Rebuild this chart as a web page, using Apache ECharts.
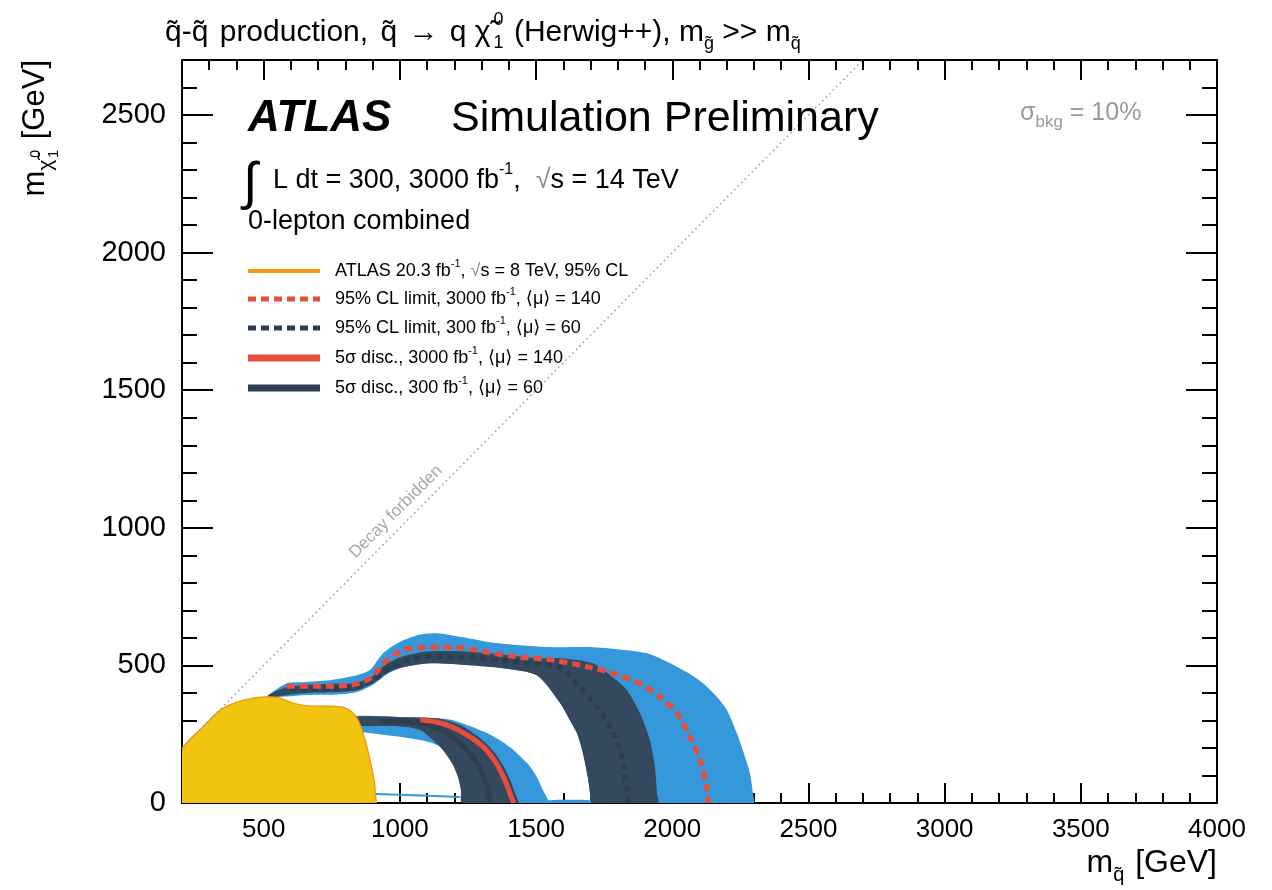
<!DOCTYPE html>
<html>
<head>
<meta charset="utf-8">
<script src="https://cdn.jsdelivr.net/npm/echarts@6/dist/echarts.min.js"></script>
<style>
  html, body { margin: 0; padding: 0; background: #fff; }
  #chart { width: 1272px; height: 890px; }
</style>
</head>
<body>
<div id="chart"></div>
<script>
// ---- axis ranges and ticks (GeV) ----
const xRange = [200, 4000];
const yRange = [0, 2700];
const xMajorTicks = [500, 1000, 1500, 2000, 2500, 3000, 3500, 4000];
const yMajorTicks = [0, 500, 1000, 1500, 2000, 2500];
const xMinorTicks = [];
for (let v = 300; v < 4000; v += 100) if (v % 500) xMinorTicks.push(v);
const yMinorTicks = [];
for (let v = 100; v < 2700; v += 100) if (v % 500) yMinorTicks.push(v);

// ---- contours in the (m_squark, m_neutralino) plane, GeV ----
// ATLAS 8 TeV observed exclusion (filled)
const atlas8TeV = [
  [200, 0], [200, 192], [277, 276], [339, 337], [402, 366], [461, 381], [512, 385],
  [560, 381], [607, 363], [670, 352], [743, 352], [791, 348], [824, 330], [846, 301],
  [872, 229], [890, 156], [905, 83], [912, 11], [912, 0]
];
// 95% CL limit band, 3000 fb-1 (outer edge, then inner edge back)
const limit3000Band = [
  [512, 385], [585, 435], [644, 439], [743, 446], [842, 464], [890, 483], [938, 544],
  [989, 580], [1063, 610], [1136, 617], [1232, 602], [1331, 584], [1441, 573], [1562, 566],
  [1709, 566], [1834, 555], [1907, 544], [1955, 526], [2054, 475], [2113, 435], [2164, 385],
  [2201, 337], [2237, 254], [2259, 192], [2285, 109], [2296, 36], [2298, 0],
  [2000, 0], [1701, 0], [1701, 11], [1690, 94], [1672, 181], [1650, 254], [1624, 301],
  [1588, 363], [1503, 464], [1378, 490], [1257, 501], [1110, 508], [1011, 493], [953, 468],
  [901, 430], [842, 403], [769, 394], [644, 392], [578, 387]
];
// 95% CL limit band, 300 fb-1
const limit300Band = [
  [516, 392], [585, 421], [707, 432], [828, 435], [890, 453], [938, 497], [1011, 533],
  [1110, 551], [1232, 551], [1356, 541], [1503, 526], [1588, 526], [1709, 508],
  [1782, 457], [1834, 410], [1881, 327], [1918, 229], [1936, 131], [1944, 36], [1947, 0],
  [1820, 0], [1701, 0], [1701, 11], [1690, 94], [1672, 181], [1650, 254], [1624, 301],
  [1588, 363], [1503, 464], [1378, 490], [1257, 501], [1110, 508], [1011, 493], [953, 472],
  [901, 435], [842, 410], [769, 403], [644, 399], [523, 385]
];
// 5 sigma discovery band, 3000 fb-1
const disc3000Band = [
  [817, 312], [1011, 312], [1136, 308], [1195, 301], [1320, 254], [1404, 203], [1467, 145],
  [1503, 94], [1525, 47], [1544, 0],
  [1400, 0], [1257, 0], [1257, 83], [1221, 145], [1173, 192], [1110, 221], [1011, 239],
  [853, 258], [817, 258]
];
// 5 sigma discovery band, 300 fb-1
const disc300Band = [
  [817, 312], [1011, 312], [1136, 308], [1221, 283], [1294, 236], [1342, 190], [1378, 138],
  [1404, 86], [1422, 38], [1434, 0],
  [1330, 0], [1228, 0], [1224, 47], [1213, 94], [1191, 145], [1158, 192], [1121, 229],
  [1074, 265], [1000, 279], [817, 283]
];
// low-mass fragments of the 3000 fb-1 band along the axis
const limit3000Sliver = [[1540, 0], [1540, 9], [1600, 12], [1700, 10], [1700, 0]];
const disc3000Sliver = [[912, 33], [1000, 30], [1100, 26], [1221, 22]];

// central contours
const limit3000Line = [
  [585, 424], [707, 424], [817, 428], [890, 453], [953, 519], [1011, 555], [1085, 566],
  [1195, 566], [1320, 548], [1441, 530], [1562, 519], [1698, 493], [1808, 464], [1892, 428],
  [1955, 385], [2017, 327], [2065, 239], [2102, 156], [2127, 58], [2131, 0]
];
const limit300Line = [
  [596, 414], [817, 417], [897, 443], [964, 490], [1037, 522], [1147, 533], [1294, 526],
  [1441, 512], [1588, 493], [1661, 421], [1723, 348], [1771, 276], [1808, 192], [1826, 109],
  [1837, 11], [1837, 0]
];
const disc3000Line = [
  [1075, 302], [1120, 297], [1180, 281], [1245, 248], [1305, 205], [1345, 158], [1372, 111],
  [1395, 60], [1412, 14], [1418, 0]
];
const disc300Line = [
  [927, 297], [1074, 290], [1165, 261], [1228, 210], [1276, 156], [1305, 102], [1323, 47],
  [1331, 0]
];
// m_neutralino = m_squark
const kinematicLimit = [[200, 200], [2700, 2700]];

// ---- style ----
const FONT = "'Liberation Sans', 'DejaVu Sans', Arial, sans-serif";
const COL = {
  lightBlue: '#3498db',
  band: '#34495e',
  navy: '#2c3e50',
  red: '#e74c3c',
  gold: '#f1c40f',
  orange: '#f39c12',
  grey: '#999999'
};

function polygonSeries(name, pts, fill, stroke, lw) {
  return {
    type: 'custom', name, xAxisIndex: 0, yAxisIndex: 0, data: pts, clip: true,
    renderItem(params, api) {
      if (params.context.rendered) return;
      params.context.rendered = true;
      const points = pts.map(p => api.coord(p));
      return {
        type: 'polygon',
        shape: { points, smooth: 0.25 },
        style: { fill, stroke: stroke || 'none', lineWidth: lw || 0 }
      };
    },
    silent: true
  };
}

function lineSeries(name, pts, color, width, type, smooth) {
  return {
    type: 'line', name, xAxisIndex: 0, yAxisIndex: 0, data: pts,
    showSymbol: false, symbol: 'none', smooth: smooth === undefined ? 0.3 : smooth,
    clip: true, silent: true,
    lineStyle: { color, width, type: type || 'solid', cap: 'butt' }
  };
}

function axis(dim, gridIndex, position, ticks, len, labelCfg, showLine) {
  const range = dim === 'x' ? xRange : yRange;
  return {
    type: 'value', gridIndex, position, min: range[0], max: range[1],
    axisLine: { show: !!showLine, onZero: false, lineStyle: { color: '#000', width: 2 } },
    axisTick: { show: true, inside: true, length: len, customValues: ticks,
                lineStyle: { color: '#000', width: 2 } },
    axisLabel: labelCfg ? Object.assign({ show: true, color: '#000', fontFamily: FONT,
                formatter: v => String(v) }, labelCfg) : { show: false },
    splitLine: { show: false }
  };
}

const gridBox = { left: 182, right: 55, top: 60, bottom: 87, containLabel: false };

const option = {
  animation: false,
  backgroundColor: '#fff',
  grid: [Object.assign({}, gridBox), Object.assign({}, gridBox)],
  xAxis: [
    axis('x', 0, 'bottom', xMajorTicks, 20,
         { customValues: xMajorTicks, fontSize: 26, margin: 14 }, true),
    axis('x', 0, 'top', xMajorTicks, 20, null, true),
    axis('x', 1, 'bottom', xMinorTicks, 10, null, false),
    axis('x', 1, 'top', xMinorTicks, 10, null, false)
  ],
  yAxis: [
    axis('y', 0, 'left', yMajorTicks, 31,
         { customValues: yMajorTicks, fontSize: 29, margin: 16 }, true),
    axis('y', 0, 'right', yMajorTicks, 31, null, true),
    axis('y', 1, 'left', yMinorTicks, 15, null, false),
    axis('y', 1, 'right', yMinorTicks, 15, null, false)
  ],
  series: [
    polygonSeries('limit3000Band', limit3000Band, COL.lightBlue),
    polygonSeries('limit300Band', limit300Band, COL.band),
    polygonSeries('disc3000Band', disc3000Band, COL.lightBlue),
    polygonSeries('disc300Band', disc300Band, COL.band),
    polygonSeries('limit3000Sliver', limit3000Sliver, COL.lightBlue),
    lineSeries('disc3000Sliver', disc3000Sliver, COL.lightBlue, 2, 'solid', 0),
    lineSeries('limit300Line', limit300Line, COL.navy, 5, [6, 5]),
    lineSeries('limit3000Line', limit3000Line, COL.red, 5, [8, 5]),
    lineSeries('disc300Line', disc300Line, COL.navy, 5, 'solid'),
    lineSeries('disc3000Line', disc3000Line, COL.red, 5, 'solid'),
    polygonSeries('atlas8TeV', atlas8TeV, COL.gold, COL.orange, 1.5),
    lineSeries('kinematicLimit', kinematicLimit, COL.grey, 1.5, [1.5, 3.5], 0)
  ]
};

const chart = echarts.init(document.getElementById('chart'), null, { renderer: 'canvas' });
chart.setOption(option);

// ---- text with sub/superscripts ----
const measure = document.createElement('canvas').getContext('2d');
function fontStr(size, weight, style) {
  return (style || 'normal') + ' ' + (weight || 'normal') + ' ' + size + 'px ' + FONT;
}
function textRun(tokens, base) {
  let x = 0;
  const children = [];
  tokens.forEach(tk => {
    const size = tk.size || base.size;
    const font = fontStr(size, tk.w || base.w, tk.i || base.i);
    measure.font = font;
    const w = measure.measureText(tk.t).width;
    children.push({
      type: 'text', x: x + (tk.dx || 0), y: tk.dy || 0, z: 100, silent: true,
      style: { text: tk.t, font, fill: tk.c || base.c || '#000', align: 'left', verticalAlign: 'middle' }
    });
    if (!tk.stack) x += w + (tk.dx || 0) + (tk.gap || 0);
  });
  return { children, width: x };
}
function richGroup(x, y, tokens, base, opt) {
  opt = opt || {};
  const run = textRun(tokens, base);
  let gx = x, gy = y;
  if (opt.rotate) { if (opt.alignEnd) gy = y + run.width; }
  else if (opt.alignEnd) gx = x - run.width;
  return { type: 'group', x: gx, y: gy, rotation: opt.rotate ? Math.PI / 2 : 0, z: 100,
           silent: true, children: run.children };
}

const T = '\u0303'; // combining tilde
const graphics = [];

// plot title
graphics.push(richGroup(165, 33, [
  { t: 'q' + T + '-q' + T, gap: 3 },
  { t: ' production,', gap: 4 },
  { t: ' q' + T, gap: 3 },
  { t: ' \u2192', gap: 3 },
  { t: ' q \u03C7' + T },
  { t: '0', size: 18, dy: -13, dx: 3, stack: true },
  { t: '1', size: 18, dy: 10, dx: 3, gap: 2 },
  { t: ' (Herwig++), m' },
  { t: 'g' + T, size: 18, dy: 11 },
  { t: ' >> m' },
  { t: 'q' + T, size: 18, dy: 11 }
], { size: 30 }));

// experiment label
graphics.push(richGroup(248, 119, [{ t: 'ATLAS' }], { size: 44, w: 'bold', i: 'italic' }));
graphics.push(richGroup(451, 119, [{ t: 'Simulation Preliminary' }], { size: 43 }));
graphics.push(richGroup(243, 185, [{ t: '\u222B' }], { size: 52 }));
graphics.push(richGroup(273, 181, [
  { t: 'L dt = 300, 3000 fb' },
  { t: '-1', size: 16, dy: -11 },
  { t: ',  ' },
  { t: '\u221A', c: '#888' },
  { t: 's = 14 TeV' }
], { size: 27 }));
graphics.push(richGroup(248, 222, [{ t: '0-lepton combined' }], { size: 27 }));

// background uncertainty
graphics.push(richGroup(1020, 113, [
  { t: '\u03C3' },
  { t: 'bkg', size: 17, dy: 9 },
  { t: ' = 10%' }
], { size: 25, c: '#9a9a9a' }));

// legend
const legendRows = [
  { y: 271, color: COL.orange, width: 4, dash: null,
    label: [{ t: 'ATLAS 20.3 fb' }, { t: '-1', size: 11, dy: -7 }, { t: ', ' },
            { t: '\u221A', c: '#888' }, { t: 's = 8 TeV, 95% CL' }] },
  { y: 299, color: COL.red, width: 5, dash: [8, 5],
    label: [{ t: '95% CL limit, 3000 fb' }, { t: '-1', size: 11, dy: -7 },
            { t: ', \u27E8\u03BC\u27E9 = 140' }] },
  { y: 328, color: COL.navy, width: 5, dash: [8, 5],
    label: [{ t: '95% CL limit, 300 fb' }, { t: '-1', size: 11, dy: -7 },
            { t: ', \u27E8\u03BC\u27E9 = 60' }] },
  { y: 358, color: COL.red, width: 7, dash: null,
    label: [{ t: '5\u03C3 disc., 3000 fb' }, { t: '-1', size: 11, dy: -7 },
            { t: ', \u27E8\u03BC\u27E9 = 140' }] },
  { y: 388, color: COL.navy, width: 7, dash: null,
    label: [{ t: '5\u03C3 disc., 300 fb' }, { t: '-1', size: 11, dy: -7 },
            { t: ', \u27E8\u03BC\u27E9 = 60' }] }
];
legendRows.forEach(row => {
  graphics.push({
    type: 'line', z: 100, silent: true,
    shape: { x1: 248, y1: row.y, x2: 320, y2: row.y },
    style: { stroke: row.color, lineWidth: row.width, lineDash: row.dash || null, lineCap: 'butt' }
  });
  graphics.push(richGroup(335, row.y, row.label, { size: 18 }));
});

// axis titles
graphics.push(richGroup(1217, 863, [
  { t: 'm' },
  { t: 'q' + T, size: 20, dy: 12, gap: 2 },
  { t: ' [GeV]' }
], { size: 32 }, { alignEnd: true }));
graphics.push(richGroup(35, 60, [
  { t: 'm' },
  { t: '\u03C7' + T, size: 21, dy: 11 },
  { t: '0', size: 14, dy: 1, dx: 2, stack: true },
  { t: '1', size: 14, dy: 19, dx: 2, gap: 2 },
  { t: ' [GeV]' }
], { size: 31 }, { rotate: true, alignEnd: true }));

// label along the kinematic limit
const onDiag = chart.convertToPixel({ gridIndex: 0 }, [1022, 1022]);
graphics.push({
  type: 'text', x: onDiag[0] - 10, y: onDiag[1] - 10, rotation: Math.PI / 4, z: 100, silent: true,
  style: { text: 'Decay forbidden', font: fontStr(17), fill: '#a8a8a8', align: 'center', verticalAlign: 'middle' }
});

chart.setOption({ graphic: graphics });
</script>
</body>
</html>
